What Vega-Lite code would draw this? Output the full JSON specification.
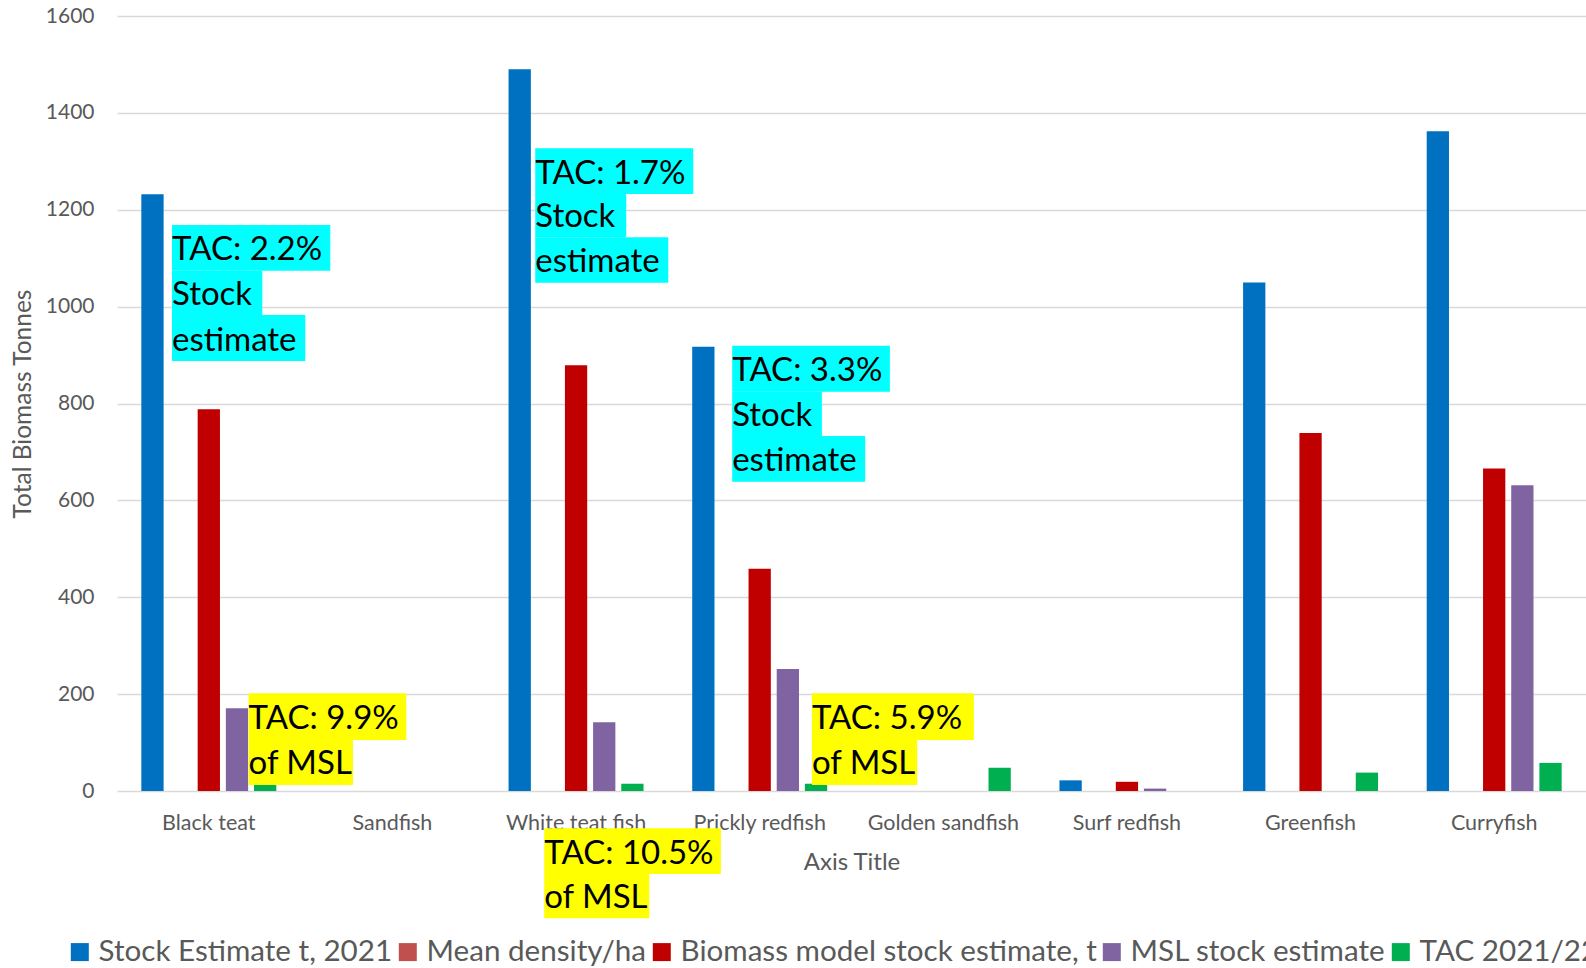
{
  "$schema": "https://vega.github.io/schema/vega-lite/v6.json",
  "width": 1469,
  "height": 775,
  "autosize": {"type": "none"},
  "padding": {"left": 117, "top": 16, "right": 0, "bottom": 177},
  "background": "white",
  "config": {"view": {"stroke": null}, "font": "Lato"},
  "datasets": {
    "bars": [
      {"category": "Black teat", "series": "Stock Estimate t, 2021", "value": 1232},
      {"category": "Black teat", "series": "Biomass model stock estimate, t", "value": 788},
      {"category": "Black teat", "series": "MSL stock estimate", "value": 171},
      {"category": "Black teat", "series": "TAC 2021/22", "value": 17},
      {"category": "White teat fish", "series": "Stock Estimate t, 2021", "value": 1490},
      {"category": "White teat fish", "series": "Biomass model stock estimate, t", "value": 879},
      {"category": "White teat fish", "series": "MSL stock estimate", "value": 142},
      {"category": "White teat fish", "series": "TAC 2021/22", "value": 15},
      {"category": "Prickly redfish", "series": "Stock Estimate t, 2021", "value": 917},
      {"category": "Prickly redfish", "series": "Biomass model stock estimate, t", "value": 459},
      {"category": "Prickly redfish", "series": "MSL stock estimate", "value": 252},
      {"category": "Prickly redfish", "series": "TAC 2021/22", "value": 15},
      {"category": "Golden sandfish", "series": "TAC 2021/22", "value": 48},
      {"category": "Surf redfish", "series": "Stock Estimate t, 2021", "value": 22},
      {"category": "Surf redfish", "series": "Biomass model stock estimate, t", "value": 19},
      {"category": "Surf redfish", "series": "MSL stock estimate", "value": 5},
      {"category": "Greenfish", "series": "Stock Estimate t, 2021", "value": 1050},
      {"category": "Greenfish", "series": "Biomass model stock estimate, t", "value": 739},
      {"category": "Greenfish", "series": "TAC 2021/22", "value": 38},
      {"category": "Curryfish", "series": "Stock Estimate t, 2021", "value": 1362},
      {"category": "Curryfish", "series": "Biomass model stock estimate, t", "value": 666},
      {"category": "Curryfish", "series": "MSL stock estimate", "value": 631},
      {"category": "Curryfish", "series": "TAC 2021/22", "value": 58}
    ],
    "notes": [
      {"text": "TAC: 2.2%", "basis": "Stock estimate", "x1": 0.2995, "x2": 1.1614, "top": 1168.5, "bottom": 1074.2},
      {"text": "Stock", "basis": "Stock estimate", "x1": 0.2995, "x2": 0.7912, "top": 1074.2, "bottom": 982.7},
      {"text": "estimate", "basis": "Stock estimate", "x1": 0.2995, "x2": 1.0253, "top": 982.7, "bottom": 887.7},
      {"text": "TAC: 1.7%", "basis": "Stock estimate", "x1": 2.2777, "x2": 3.1381, "top": 1326.9, "bottom": 1232.5},
      {"text": "Stock", "basis": "Stock estimate", "x1": 2.2777, "x2": 2.7732, "top": 1232.5, "bottom": 1143.1},
      {"text": "estimate", "basis": "Stock estimate", "x1": 2.2777, "x2": 3.0019, "top": 1143.1, "bottom": 1049.4},
      {"text": "TAC: 3.3%", "basis": "Stock estimate", "x1": 3.3503, "x2": 4.2091, "top": 919.3, "bottom": 824.4},
      {"text": "Stock", "basis": "Stock estimate", "x1": 3.3503, "x2": 3.8388, "top": 824.4, "bottom": 732.9},
      {"text": "estimate", "basis": "Stock estimate", "x1": 3.3503, "x2": 4.0746, "top": 732.9, "bottom": 638.6},
      {"text": "TAC: 9.9%", "basis": "MSL", "x1": 0.7166, "x2": 1.5753, "top": 201.7, "bottom": 105.3},
      {"text": "of MSL", "basis": "MSL", "x1": 0.7166, "x2": 1.285, "top": 105.3, "bottom": 12.4},
      {"text": "TAC: 5.9%", "basis": "MSL", "x1": 3.7844, "x2": 4.6665, "top": 201.7, "bottom": 105.3},
      {"text": "of MSL", "basis": "MSL", "x1": 3.7844, "x2": 4.3577, "top": 105.3, "bottom": 12.4},
      {"text": "TAC: 10.5%", "basis": "MSL", "x1": 2.3267, "x2": 3.2888, "top": -77.0, "bottom": -171.4},
      {"text": "of MSL", "basis": "MSL", "x1": 2.3267, "x2": 2.8984, "top": -171.4, "bottom": -262.8}
    ]
  },
  "layer": [
    {
      "data": {"name": "bars"},
      "mark": {"type": "bar"},
      "encoding": {
        "x": {
          "field": "category",
          "type": "nominal",
          "title": "Axis Title",
          "sort": ["Black teat", "Sandfish", "White teat fish", "Prickly redfish", "Golden sandfish", "Surf redfish", "Greenfish", "Curryfish"],
          "scale": {
            "domain": ["Black teat", "Sandfish", "White teat fish", "Prickly redfish", "Golden sandfish", "Surf redfish", "Greenfish", "Curryfish"],
            "paddingInner": 0.265,
            "paddingOuter": 0.1325
          },
          "axis": {
            "labelAngle": 0,
            "labelFontSize": 21.5,
            "labelColor": "#595959",
            "labelPadding": 21,
            "ticks": false,
            "tickSize": 0,
            "domain": false,
            "labelOverlap": false,
            "labelLimit": 0,
            "titleFontSize": 24,
            "titleColor": "#595959",
            "titleFontWeight": "normal",
            "titleY": 71,
            "titleBaseline": "middle"
          }
        },
        "xOffset": {
          "field": "series",
          "type": "nominal",
          "scale": {
            "domain": ["Stock Estimate t, 2021", "Mean density/ha", "Biomass model stock estimate, t", "MSL stock estimate", "TAC 2021/22"],
            "paddingInner": 0.209,
            "paddingOuter": 0
          }
        },
        "y": {
          "field": "value",
          "type": "quantitative",
          "title": "Total Biomass Tonnes",
          "scale": {"domain": [0, 1600], "nice": false},
          "axis": {
            "values": [0, 200, 400, 600, 800, 1000, 1200, 1400, 1600],
            "format": "d",
            "grid": true,
            "gridColor": "#D9D9D9",
            "gridWidth": 1.5,
            "domain": false,
            "ticks": false,
            "tickSize": 0,
            "labelPadding": 23,
            "labelFontSize": 21,
            "labelColor": "#595959",
            "titleFontSize": 24.5,
            "titleColor": "#595959",
            "titleFontWeight": "normal",
            "titleX": -94,
            "titleBaseline": "middle"
          }
        },
        "color": {
          "field": "series",
          "type": "nominal",
          "scale": {
            "domain": ["Stock Estimate t, 2021", "Mean density/ha", "Biomass model stock estimate, t", "MSL stock estimate", "TAC 2021/22"],
            "range": ["#0070C0", "#C0504D", "#C00000", "#8064A2", "#00B050"]
          },
          "legend": {
            "orient": "none",
            "legendX": -52,
            "legendY": 921,
            "direction": "horizontal",
            "title": null,
            "symbolType": "square",
            "symbolSize": 324,
            "symbolStrokeWidth": 0,
            "labelFontSize": 29.6,
            "labelColor": "#595959",
            "labelOffset": 4,
            "columnPadding": 0,
            "labelLimit": 0,
            "padding": 0
          }
        }
      }
    },
    {
      "data": {"name": "notes"},
      "layer": [
        {
          "mark": {"type": "rect"},
          "encoding": {
            "x": {"field": "x1", "type": "quantitative", "scale": {"domain": [0, 8], "nice": false, "zero": false}, "axis": null},
            "x2": {"field": "x2"},
            "y": {"field": "top", "type": "quantitative", "scale": {"domain": [0, 1600], "nice": false}},
            "y2": {"field": "bottom"},
            "color": {
              "field": "basis",
              "type": "nominal",
              "scale": {"domain": ["Stock estimate", "MSL"], "range": ["#00FFFF", "#FFFF00"]},
              "legend": null
            }
          }
        },
        {
          "mark": {"type": "text", "align": "left", "baseline": "alphabetic", "dy": -10.5, "fontSize": 33, "color": "#000000"},
          "encoding": {
            "x": {"field": "x1", "type": "quantitative"},
            "y": {"field": "bottom", "type": "quantitative", "scale": {"domain": [0, 1600], "nice": false}},
            "text": {"field": "text"}
          }
        }
      ]
    }
  ],
  "resolve": {"scale": {"x": "independent", "color": "independent"}}
}
